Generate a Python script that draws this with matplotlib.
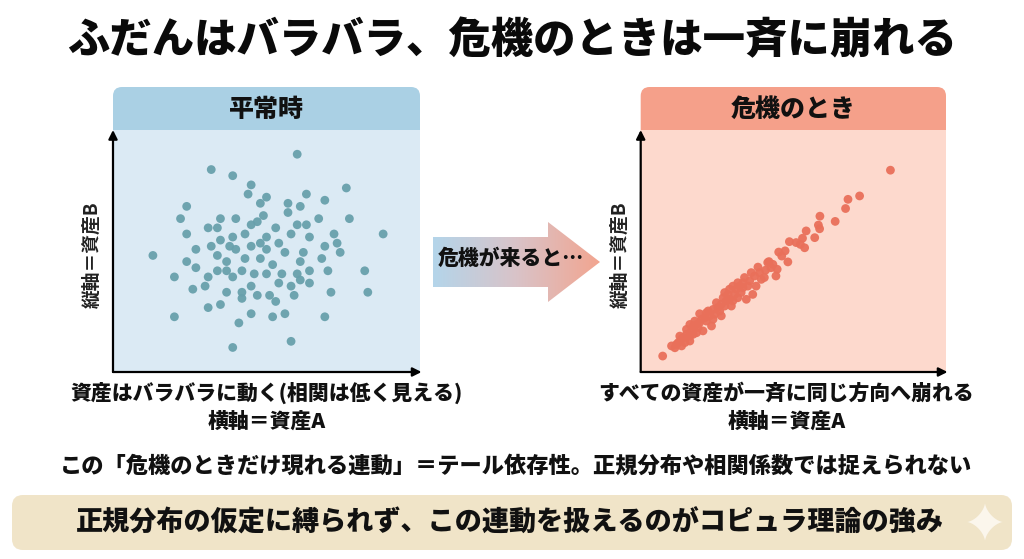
import numpy as np
import matplotlib
matplotlib.use("Agg")
import matplotlib.pyplot as plt
from matplotlib.patches import FancyBboxPatch, Polygon
from matplotlib.colors import LinearSegmentedColormap

plt.rcParams['font.family'] = ['Noto Sans CJK JP', 'DejaVu Sans']

# ---- data ----
title = "ふだんはバラバラ、危機のときは一斉に崩れる"
left_title = "平常時"
right_title = "危機のとき"
y_label = "縦軸＝資産B"
x_label = "横軸＝資産A"
left_caption = "資産はバラバラに動く(相関は低く見える)"
right_caption = "すべての資産が一斉に同じ方向へ崩れる"
arrow_text = "危機が来ると…"
note = "この「危機のときだけ現れる連動」＝テール依存性。正規分布や相関係数では捉えられない"
banner = "正規分布の仮定に縛られず、この連動を扱えるのがコピュラ理論の強み"

# normal times: scattered cloud
left_x = [60, 32, 39, 45, 44, 50, 63, 76, 24, 48,
          57, 61, 69, 57, 22, 35, 40, 49, 47, 45,
          31, 34, 53, 60, 63, 67, 77, 24, 39, 43,
          58, 64, 72, 88, 35, 50, 48, 32, 45, 54,
          69, 73, 27, 38, 40, 50, 56, 62, 74, 13,
          34, 43, 48, 68, 24, 37, 52, 61, 27, 34,
          37, 42, 50, 55, 60, 64, 70, 82, 20, 31,
          39, 46, 61, 54, 30, 45, 58, 64, 26, 37,
          42, 47, 51, 59, 42, 53, 71, 83, 35, 31,
          45, 56, 52, 69, 20, 41, 58, 39]
left_y = [71, 66, 64, 61, 58, 57, 58, 60, 54, 55,
          55, 54, 56, 52, 50, 50, 50, 51, 49, 48,
          47, 47, 47, 48, 48, 50, 50, 45, 44, 45,
          45, 44, 45, 45, 43, 44, 42, 41, 41, 42,
          41, 42, 40, 41, 40, 40, 39, 39, 39, 38,
          38, 37, 37, 37, 36, 36, 35, 36, 34, 33,
          33, 33, 32, 32, 32, 33, 33, 33, 31, 31,
          31, 32, 30, 29, 28, 28, 28, 29, 27, 26,
          26, 25, 25, 25, 24, 23, 26, 26, 22, 21,
          19, 19, 18, 18, 18, 16, 10, 8]

# crisis: tight diagonal band
right_x = [81.8, 71.7, 67.9, 67.1, 63.7, 58.7, 58.2, 58.6, 54.2, 57.0,
           53.0, 48.7, 50.9, 52.3, 53.7, 47.3, 45.2, 46.2, 48.2, 42.0,
           43.3, 38.4, 40.9, 44.7, 44.3, 40.5, 37.3, 35.7, 33.5, 37.8,
           7.2, 11.2, 12.3, 13.9, 15.0, 16.6, 18.3, 17.2, 19.3, 19.3,
           21.0, 22.1, 23.7, 24.8, 26.4, 26.4, 28.0, 29.7, 27.5, 29.1,
           30.8, 31.8, 33.5, 34.6, 41.6, 31.8, 23.2, 20.4, 16.1, 13.4,
           36.7,
           10.1, 12.8, 16.1, 15.0, 17.7, 18.8, 21.5, 22.6, 24.2, 25.3,
           27.0, 28.6, 30.2, 31.3, 32.9, 34.0, 35.1, 36.2, 38.9, 39.5,
           42.7, 13.4, 14.5, 11.7, 21.5, 23.7, 25.9, 27.5, 29.1, 30.2,
           32.4, 18.3, 19.9, 16.1, 17.2]
right_y = [65.8, 57.4, 56.3, 53.3, 49.1, 50.8, 47.9, 46.7, 46.0, 43.8,
           43.6, 42.5, 42.2, 41.6, 40.5, 39.5, 39.1, 37.8, 35.9, 36.0,
           35.1, 34.2, 33.2, 33.5, 31.3, 30.8, 31.3, 29.7, 29.1, 28.0,
           5.2, 7.9, 9.6, 11.2, 12.3, 13.4, 12.8, 15.0, 16.1, 19.0,
           17.7, 19.9, 20.4, 22.6, 22.1, 18.3, 23.2, 21.5, 25.9, 27.0,
           25.3, 29.1, 27.5, 23.7, 35.7, 24.2, 15.0, 13.4, 10.1, 8.5,
           25.3,
           8.5, 11.7, 15.5, 13.9, 16.6, 14.5, 16.6, 18.3, 18.8, 21.0,
           24.2, 25.3, 28.0, 27.0, 25.9, 30.8, 28.0, 32.4, 32.4, 30.2,
           34.0, 10.7, 9.6, 9.0, 19.3, 17.2, 19.9, 21.5, 23.7, 23.2,
           28.0, 15.5, 17.2, 11.7, 12.3]

W, H = 1024, 559
fig = plt.figure(figsize=(W / 100, H / 100), dpi=100)

# background axes in pixel coordinates (y downwards)
bg = fig.add_axes([0, 0, 1, 1], zorder=-1)
bg.set_xlim(0, W)
bg.set_ylim(H, 0)
bg.axis("off")

bg.text(512, 40, title, ha="center", va="center", fontsize=30.5,
        fontweight="heavy", color="#0a0a0a")

# panel headers
panels = [
    dict(x0=113, x1=420, head="#aad0e4", body="#dbeaf4", dot="#68a0ac",
         name=left_title, cap=left_caption, xs=left_x, ys=left_y),
    dict(x0=640.7, x1=946, head="#f5a08a", body="#fdd9cd", dot="#e9705a",
         name=right_title, cap=right_caption, xs=right_x, ys=right_y),
]
top_px, head_px, bot_px = 87, 130, 372

for p in panels:
    cx = (p["x0"] + p["x1"]) / 2
    hdr = FancyBboxPatch((p["x0"], top_px), p["x1"] - p["x0"], 60,
                         boxstyle="round,pad=0,rounding_size=9",
                         fc=p["head"], ec="none")
    bg.add_patch(hdr)
    bg.text(cx, 109, p["name"], ha="center", va="center", fontsize=18,
            fontweight="heavy", color="#111111")
    bg.text(p["x0"] - 21, 255, y_label, ha="center", va="center",
            rotation=90, fontsize=13.5, fontweight="bold", color="#222222")
    bg.text(cx + (0 if p["x0"] < 500 else -7), 393, p["cap"], ha="center",
            va="center", fontsize=15, fontweight="heavy", color="#111111")
    bg.text(cx + (0 if p["x0"] < 500 else -7), 422, x_label, ha="center",
            va="center", fontsize=15, fontweight="heavy", color="#111111")

    ax = fig.add_axes([p["x0"] / W, 1 - bot_px / H,
                       (p["x1"] - p["x0"]) / W, (bot_px - head_px) / H])
    ax.set_facecolor(p["body"])
    ax.set_xlim(0, 100)
    ax.set_ylim(0, 78.9)
    for s in ax.spines.values():
        s.set_visible(False)
    ax.set_xticks([])
    ax.set_yticks([])
    ax.scatter(p["xs"], p["ys"], s=40, color=p["dot"], edgecolors="none",
               alpha=0.95, zorder=3)
    arw = dict(arrowstyle="-|>", color="black", lw=1.6, mutation_scale=13,
               shrinkA=0, shrinkB=0)
    ax.annotate("", xy=(1.005, 0), xytext=(0, 0), xycoords="axes fraction",
                textcoords="axes fraction", arrowprops=arw, annotation_clip=False)
    ax.annotate("", xy=(0, 1.0), xytext=(0, 0), xycoords="axes fraction",
                textcoords="axes fraction", arrowprops=arw, annotation_clip=False)

# gradient arrow between the panels
arrow_pts = [(433, 237), (548, 237), (548, 222), (600, 262),
             (548, 302), (548, 287), (433, 287)]
poly = Polygon(arrow_pts, closed=True, fc="none", ec="none")
bg.add_patch(poly)
cmap = LinearSegmentedColormap.from_list("blue2salmon",
                                         ["#b4d5ea", "#d9c3c8", "#f2a590"])
grad = np.linspace(0, 1, 256).reshape(1, -1)
im = bg.imshow(grad, cmap=cmap, extent=(433, 600, 302, 222), aspect="auto",
               interpolation="bilinear")
im.set_clip_path(poly)
bg.set_xlim(0, W)
bg.set_ylim(H, 0)
bg.text(511, 259, arrow_text, ha="center", va="center", fontsize=15,
        fontweight="heavy", color="#111111")

# note line
bg.text(516, 466, note, ha="center", va="center", fontsize=16,
        fontweight="heavy", color="#111111")

# bottom banner
ban = FancyBboxPatch((12, 495), 1000, 55,
                     boxstyle="round,pad=0,rounding_size=11",
                     fc="#f0e4c8", ec="none")
bg.add_patch(ban)
bg.text(510, 522, banner, ha="center", va="center", fontsize=19.5,
        fontweight="heavy", color="#111111")

# sparkle
t = np.linspace(0, 2 * np.pi, 200)
sx = 985 + 18 * np.cos(t) ** 3
sy = 522 + 19 * np.sin(t) ** 3
bg.add_patch(Polygon(np.column_stack([sx, sy]), closed=True,
                     fc="#fbf6ec", ec="none"))

fig.savefig("out.png", dpi=100)
